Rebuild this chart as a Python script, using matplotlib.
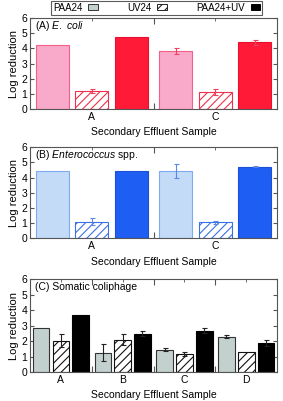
import numpy as np
import matplotlib
matplotlib.use('Agg')
import matplotlib.pyplot as plt
from matplotlib.patches import Patch

plt.rcParams['font.family'] = ['Liberation Sans', 'DejaVu Sans']
plt.rcParams['mathtext.fontset'] = 'custom'
plt.rcParams['mathtext.it'] = 'Liberation Sans:italic'
plt.rcParams['mathtext.rm'] = 'Liberation Sans'
plt.rcParams['hatch.linewidth'] = 0.8

treatments = ['PAA24', 'UV24', 'PAA24+UV']

# panel A: E. coli
ecoli_samples = ['A', 'C']
ecoli_vals = [[4.22, 3.80], [1.21, 1.12], [4.72, 4.40]]
ecoli_err = [[0.0, 0.20], [0.12, 0.18], [0.0, 0.16]]

# panel B: Enterococcus
ent_samples = ['A', 'C']
ent_vals = [[4.45, 4.45], [1.10, 1.04], [4.45, 4.72]]
ent_err = [[0.0, 0.45], [0.22, 0.10], [0.0, 0.04]]

# panel C: somatic coliphage
col_samples = ['A', 'B', 'C', 'D']
col_vals = [[2.87, 1.26, 1.45, 2.28], [2.03, 2.10, 1.15, 1.29], [3.66, 2.49, 2.68, 1.88]]
col_err = [[0.0, 0.54, 0.10, 0.10], [0.42, 0.35, 0.13, 0.0], [0.0, 0.16, 0.15, 0.20]]

panels = [
    ('A', ecoli_samples, ecoli_vals, ecoli_err, r'(A) $\it{E.\ coli}$',
     ['#F9AACA', '#FFFFFF', '#FF1A38'], ['#F26088', '#F0304C', '#E8102C'], '#F04060'),
    ('B', ent_samples, ent_vals, ent_err, r'(B) $\it{Enterococcus}$ spp.',
     ['#C4DBF8', '#FFFFFF', '#1E5EF2'], ['#80AAF0', '#3A70E8', '#1A4FD8'], '#5A88E8'),
    ('C', col_samples, col_vals, col_err, '(C) Somatic coliphage',
     ['#C3D1CE', '#FFFFFF', '#000000'], ['#333333', '#111111', '#000000'], '#222222'),
]

rects = [[0.106, 0.728, 0.873, 0.227],
         [0.106, 0.406, 0.873, 0.227],
         [0.106, 0.072, 0.873, 0.232]]

fig = plt.figure(figsize=(2.83, 4.01), dpi=100)

offs = [-0.32, 0.0, 0.32]
width = 0.27
for rect, (key, samples, vals, errs, title, fills, edges, ecol) in zip(rects, panels):
    ax = fig.add_axes(rect)
    x = np.arange(1, len(samples) + 1)
    for i in range(3):
        ax.bar(x + offs[i], vals[i], width, color=fills[i], edgecolor=edges[i],
               linewidth=0.8, hatch='////' if i == 1 else None, zorder=2)
        e = np.array(errs[i])
        m = e > 0
        ax.errorbar((x + offs[i])[m], np.array(vals[i])[m], yerr=e[m], fmt='none',
                    ecolor=ecol, elinewidth=0.8, capsize=1.8, capthick=0.8, zorder=3)
    ax.set_xlim(0.5, len(samples) + 0.5)
    ax.set_ylim(0, 6)
    ax.set_yticks(range(7))
    ax.set_xticks(np.arange(1.5, len(samples)), minor=False)
    ax.set_xticklabels([])
    ax.set_xticks(x, minor=True)
    ax.set_xticklabels(samples, minor=True)
    ax.tick_params(axis='both', which='both', direction='in', top=True, right=True,
                   labelsize=7.5, pad=2, color='#555555')
    ax.tick_params(axis='x', which='major', length=4)
    ax.tick_params(axis='x', which='minor', length=2)
    ax.tick_params(axis='y', length=3)
    for s in ax.spines.values():
        s.set_color('#555555')
        s.set_linewidth(0.8)
    ax.set_ylabel('Log reduction', fontsize=8, labelpad=2)
    ax.set_xlabel('Secondary Effluent Sample', fontsize=7.5, labelpad=4)
    ax.text(0.022, 0.915, title, transform=ax.transAxes, fontsize=7.5, va='center')

handles = [Patch(facecolor='#C3D1CE', edgecolor='#333333', linewidth=0.7),
           Patch(facecolor='white', edgecolor='#222222', hatch='////', linewidth=0.7),
           Patch(facecolor='black', edgecolor='black', linewidth=0.7)]
leg = fig.legend(handles, treatments, loc='center', bbox_to_anchor=(0.554, 0.981),
                 ncol=3, markerfirst=False, fontsize=7, frameon=True, fancybox=False,
                 handlelength=1.0, handleheight=0.55, handletextpad=0.6,
                 columnspacing=3.0, borderpad=0.2, borderaxespad=0)
leg.get_frame().set_edgecolor('#333333')
leg.get_frame().set_linewidth(0.8)

fig.savefig('out.png', dpi=100)
